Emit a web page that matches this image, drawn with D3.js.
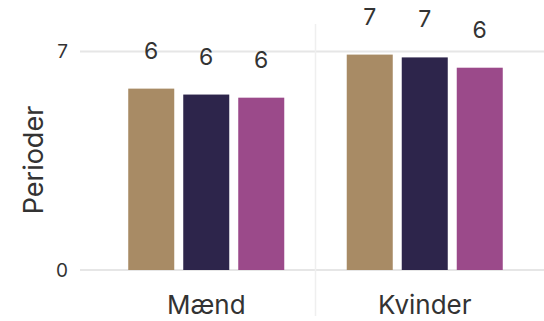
<!DOCTYPE html>
<html>
<head>
<meta charset="utf-8">
<script src="https://cdn.jsdelivr.net/npm/d3@7"></script>
<style>
  body { margin: 0; background: #fff; }
  svg text { font-family: Inter, Lato, "Noto Sans", sans-serif; fill: #333; }
</style>
</head>
<body>
<svg width="544" height="321"></svg>
<script>
// chart data
const categories = ["Mænd", "Kvinder"];
const series = ["Serie 1", "Serie 2", "Serie 3"];
const colors = ["#a88b65", "#2d254b", "#9b4a8a"];
const maendValues = [5.81, 5.62, 5.52];
const kvinderValues = [6.90, 6.81, 6.48];
const yTicks = [0, 7];
const yTitle = "Perioder";

const valuesByCategory = { "Mænd": maendValues, "Kvinder": kvinderValues };

const svg = d3.select("svg");
const width = +svg.attr("width");
const height = +svg.attr("height");

const y = d3.scaleLinear().domain([0, 7.88]).range([270, 24]);

const x0 = d3.scaleBand().domain(categories).range([97, 534]).padding(0);
const x1 = d3.scaleBand().domain(series).range([0, x0.bandwidth()])
  .paddingInner(0.1636).paddingOuter(0.568);

// grid lines
svg.append("g")
  .selectAll("line")
  .data(yTicks)
  .join("line")
  .attr("x1", 80)
  .attr("x2", width)
  .attr("y1", d => y(d))
  .attr("y2", d => y(d))
  .attr("stroke", "#e6e6e6")
  .attr("stroke-width", 2);

// separator between the groups
svg.append("line")
  .attr("x1", x0("Kvinder"))
  .attr("x2", x0("Kvinder"))
  .attr("y1", 24)
  .attr("y2", 316)
  .attr("stroke", "#efefef")
  .attr("stroke-width", 1.5);

// y tick labels
svg.append("g")
  .selectAll("text")
  .data(yTicks)
  .join("text")
  .attr("x", 68)
  .attr("y", d => y(d))
  .attr("dy", "0.35em")
  .attr("text-anchor", "end")
  .style("font-size", "19px")
  .text(d => d);

// y title
svg.append("text")
  .attr("transform", "translate(43,160) rotate(-90)")
  .attr("text-anchor", "middle")
  .style("font-size", "27px")
  .text(yTitle);

const groups = svg.append("g")
  .selectAll("g")
  .data(categories)
  .join("g")
  .attr("transform", d => "translate(" + x0(d) + ",0)");

const barData = c => valuesByCategory[c].map((v, i) => ({ key: series[i], value: v, color: colors[i] }));

groups.selectAll("rect")
  .data(barData)
  .join("rect")
  .attr("x", d => x1(d.key))
  .attr("width", x1.bandwidth())
  .attr("y", d => y(d.value))
  .attr("height", d => y(0) - y(d.value))
  .attr("fill", d => d.color);

groups.selectAll("text.value")
  .data(barData)
  .join("text")
  .attr("class", "value")
  .attr("x", d => x1(d.key) + x1.bandwidth() / 2)
  .attr("y", d => y(d.value) - 30)
  .attr("text-anchor", "middle")
  .style("font-size", "23px")
  .text(d => d3.format(".0f")(d.value));

// category labels
svg.append("g")
  .selectAll("text")
  .data(categories)
  .join("text")
  .attr("x", d => x0(d) + x0.bandwidth() / 2)
  .attr("y", 314)
  .attr("text-anchor", "middle")
  .style("font-size", "26px")
  .text(d => d);
</script>
</body>
</html>
